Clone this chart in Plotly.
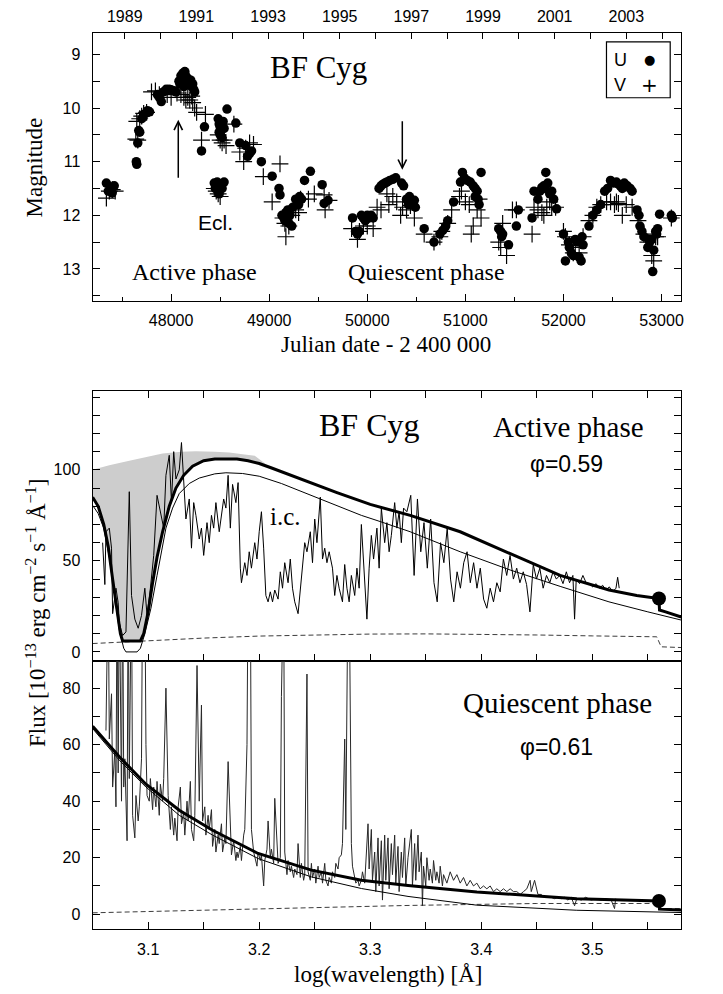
import plotly.graph_objects as go

SERIF = "Liberation Serif, Times New Roman, serif"
SANS = "Liberation Sans, Arial, sans-serif"

# ---------------- Light curve (JD-2400000, magnitude) ----------------
U_points = [
    (47340, 11.40), (47360, 11.55), (47380, 11.50), (47400, 11.58), (47420, 11.45),
    (47645, 11.00), (47650, 11.05), (47660, 10.65), (47670, 10.42), (47680, 10.45), (47700, 10.20),
    (47720, 10.12), (47740, 10.10), (47760, 10.05), (47780, 10.07),
    (47860, 9.75), (47880, 9.80), (47900, 9.88), (47920, 9.70),
    (47950, 9.65), (47980, 9.65), (48000, 9.66), (48030, 9.68), (48050, 9.70),
    (48080, 9.50), (48090, 9.55), (48100, 9.40), (48110, 9.45), (48120, 9.35), (48130, 9.60),
    (48140, 9.32), (48150, 9.40), (48160, 9.50), (48170, 9.45), (48180, 9.55), (48200, 9.48),
    (48210, 9.60), (48220, 9.55), (48230, 9.65), (48240, 9.70),
    (48340, 10.35), (48310, 10.80),
    (48440, 11.40), (48450, 11.50), (48460, 11.45), (48470, 11.38), (48480, 11.55), (48490, 11.60),
    (48500, 11.42), (48520, 11.50), (48540, 11.38),
    (48480, 10.20), (48490, 10.30), (48500, 10.35), (48510, 10.40), (48490, 10.45), (48500, 10.50),
    (48520, 10.55), (48530, 10.25), (48540, 10.38),
    (48570, 10.02), (48660, 10.28),
    (48700, 10.65), (48760, 10.70), (48780, 10.90), (48800, 10.85), (48820, 10.80),
    (48920, 11.00), (49030, 11.27), (49100, 11.50), (49110, 11.62),
    (49130, 12.00), (49150, 12.05), (49160, 12.10), (49170, 11.95), (49190, 11.90), (49200, 12.15),
    (49210, 12.00), (49230, 12.20), (49240, 11.85),
    (49270, 11.70), (49290, 11.75), (49300, 11.80), (49310, 11.65), (49330, 11.70),
    (49360, 11.35), (49420, 11.18), (49540, 11.43), (49560, 11.78), (49600, 11.72),
    (49850, 12.05), (49880, 12.30), (49900, 12.35), (49920, 12.30), (49940, 12.00), (49960, 12.05),
    (49980, 12.10), (50000, 12.00), (50020, 12.05), (50040, 12.00), (50060, 12.05),
    (50120, 11.50), (50140, 11.45), (50160, 11.42), (50180, 11.40), (50200, 11.38), (50230, 11.35),
    (50260, 11.33), (50290, 11.30), (50350, 11.40), (50370, 11.45),
    (50400, 11.70), (50420, 11.80), (50430, 11.65), (50460, 11.75), (50480, 11.72), (50490, 11.85),
    (50580, 12.25), (50680, 12.50), (50740, 12.35), (50770, 12.28), (50800, 12.20), (50820, 12.10),
    (50880, 11.75),
    (50950, 11.38), (50970, 11.20), (50990, 11.30), (51020, 11.35), (51050, 11.38), (51080, 11.45),
    (51100, 11.50), (51100, 11.65), (51120, 11.55), (51130, 11.70), (51140, 11.80), (51160, 11.20),
    (51340, 12.25), (51360, 12.30), (51370, 12.40), (51380, 12.35), (51440, 12.55),
    (51520, 12.20), (51540, 11.90), (51680, 12.05),
    (51700, 11.55), (51740, 11.70), (51760, 11.55), (51780, 11.48), (51800, 11.45), (51810, 11.50),
    (51820, 11.20), (51840, 11.40), (51860, 11.60), (51880, 11.55), (51900, 11.70), (51930, 11.88),
    (52000, 12.35), (52020, 12.85), (52050, 12.50), (52060, 12.60), (52080, 12.70), (52100, 12.75),
    (52120, 12.45), (52140, 12.50), (52160, 12.78), (52180, 12.85), (52200, 12.55), (52190, 12.40),
    (52260, 12.20), (52300, 12.00), (52340, 11.90), (52380, 11.80),
    (52420, 11.55), (52450, 11.50), (52480, 11.35), (52510, 11.40), (52540, 11.38), (52560, 11.42),
    (52580, 11.45), (52600, 11.50), (52620, 11.40), (52650, 11.45), (52680, 11.50), (52700, 11.55),
    (52750, 11.90), (52770, 12.00), (52780, 12.20), (52800, 12.30), (52820, 12.40),
    (52860, 12.60), (52870, 12.45), (52880, 12.50), (52900, 12.45), (52910, 13.05), (52920, 12.65),
    (52940, 12.30), (52950, 12.35), (52960, 12.25), (52980, 11.98), (53100, 12.00), (53110, 12.05),
]
V_points = [
    (47340, 11.68), (47370, 11.55), (47400, 11.52), (47430, 11.55),
    (47640, 10.58), (47650, 10.25), (47660, 10.60), (47680, 10.20), (47700, 10.15), (47720, 10.10),
    (47750, 10.08), (47800, 9.70), (47840, 9.68), (47880, 9.75),
    (47960, 9.75), (48000, 9.80), (48060, 9.72), (48100, 9.75), (48130, 9.80), (48150, 9.85),
    (48170, 9.80), (48190, 9.85), (48210, 9.78), (48220, 9.90), (48240, 10.00), (48260, 10.08),
    (48310, 10.60), (48350, 10.12),
    (48440, 11.50), (48460, 11.55), (48480, 11.60), (48500, 11.65),
    (48480, 10.50), (48500, 10.60), (48520, 10.65), (48540, 10.60), (48560, 10.70), (48640, 10.30),
    (48700, 10.82), (48740, 11.00), (48760, 10.75), (48800, 10.65), (48840, 10.68),
    (48940, 11.28), (49030, 11.75), (49110, 11.04),
    (49140, 12.05), (49160, 12.15), (49170, 12.40), (49200, 12.20), (49230, 12.00), (49250, 11.85),
    (49270, 11.90), (49300, 11.95), (49320, 11.70), (49400, 11.70), (49460, 11.60), (49560, 11.62),
    (49570, 11.90), (49610, 11.72),
    (49840, 12.25), (49900, 12.45), (49920, 12.30), (49960, 12.20), (50000, 12.20), (50060, 12.25),
    (50100, 11.85), (50140, 11.90), (50200, 11.60), (50220, 11.80), (50260, 11.65), (50300, 11.75),
    (50340, 12.00), (50360, 11.85), (50400, 11.90), (50440, 11.82), (50480, 12.05),
    (50580, 12.35), (50680, 12.50), (50740, 12.40), (50760, 12.30), (50820, 12.15), (50860, 11.90),
    (50940, 11.65), (50960, 11.55), (51000, 11.75), (51040, 11.80), (51060, 12.35), (51080, 12.20),
    (51120, 11.90), (51140, 11.70), (51160, 12.05),
    (51340, 12.50), (51360, 12.60), (51380, 12.15), (51420, 12.75), (51480, 11.90), (51520, 11.90),
    (51680, 12.35), (51700, 11.85), (51740, 11.90), (51780, 11.95), (51800, 12.00), (51830, 11.85),
    (51860, 11.75), (51880, 11.85), (51920, 11.85),
    (52000, 12.30), (52020, 12.40), (52060, 12.55), (52100, 12.70), (52120, 12.60), (52160, 12.70),
    (52200, 12.40), (52260, 12.10), (52300, 12.00), (52340, 11.85), (52380, 11.80), (52440, 11.75),
    (52480, 11.75), (52520, 11.80), (52540, 11.75), (52560, 11.78), (52600, 12.00), (52640, 11.80),
    (52700, 11.85), (52760, 12.10), (52820, 12.35), (52860, 12.50), (52900, 12.75), (52920, 12.85),
    (52940, 12.40), (52960, 12.40), (53100, 12.05),
]
year_jd = [47527.5, 47892.5, 48257.5, 48622.5, 48988.5, 49353.5, 49718.5, 50083.5, 50449.5,
           50814.5, 51179.5, 51544.5, 51910.5, 52275.5, 52640.5, 53005.5]
year_labels = ["1989", "", "1991", "", "1993", "", "1995", "", "1997", "", "1999", "", "2001", "",
               "2003", ""]

# ---------------- Active phase spectrum ----------------
act_obs = [
    (3.059, 60), (3.061, 37), (3.062, 66), (3.065, 68), (3.067, 57), (3.068, 21), (3.071, 35),
    (3.073, 27), (3.074, 16), (3.077, 9), (3.080, 11), (3.083, 88), (3.085, 31), (3.088, 18),
    (3.091, 13), (3.094, 20), (3.097, 35), (3.099, 20), (3.102, 35), (3.105, 53), (3.108, 86),
    (3.111, 77), (3.114, 68), (3.116, 97), (3.119, 108), (3.121, 82), (3.123, 110), (3.125, 95),
    (3.128, 100), (3.130, 115), (3.132, 93), (3.134, 73), (3.137, 84), (3.139, 57), (3.141, 82),
    (3.143, 75), (3.146, 62), (3.148, 68), (3.150, 53), (3.153, 71), (3.155, 60), (3.157, 75),
    (3.159, 68), (3.161, 82), (3.164, 66), (3.166, 75), (3.168, 84), (3.170, 79), (3.172, 97),
    (3.174, 68), (3.176, 92), (3.179, 82), (3.181, 93), (3.183, 46), (3.184, 38), (3.187, 49),
    (3.189, 42), (3.191, 55), (3.193, 46), (3.196, 60), (3.198, 51), (3.200, 66), (3.202, 77),
    (3.204, 57), (3.206, 31), (3.208, 27.5), (3.210, 33), (3.212, 27.5), (3.214, 34), (3.217, 29),
    (3.219, 44), (3.221, 35), (3.223, 49), (3.226, 38), (3.228, 51), (3.230, 35), (3.232, 27.5),
    (3.235, 21), (3.237, 35), (3.239, 46), (3.241, 60), (3.243, 55), (3.246, 66), (3.248, 49),
    (3.250, 73), (3.252, 60), (3.255, 85), (3.257, 51), (3.259, 57), (3.261, 49), (3.263, 55),
    (3.266, 46), (3.268, 31), (3.270, 42), (3.272, 35), (3.275, 27.5), (3.277, 48), (3.279, 35),
    (3.281, 27.5), (3.283, 42), (3.286, 31), (3.288, 46), (3.290, 35), (3.292, 70), (3.294, 49),
    (3.297, 18), (3.299, 46), (3.301, 64), (3.303, 51), (3.306, 68), (3.308, 46), (3.310, 79),
    (3.313, 60), (3.315, 71), (3.317, 55), (3.319, 64), (3.322, 82), (3.324, 68), (3.326, 77),
    (3.328, 60), (3.330, 79), (3.333, 77),
    (3.3365, 86), (3.3395, 42), (3.3425, 84), (3.3455, 55), (3.3484, 71), (3.3514, 46), (3.3544, 73),
    (3.3574, 38), (3.3603, 27.5), (3.3633, 60), (3.3663, 49), (3.3693, 68), (3.3723, 40),
    (3.3752, 27.5), (3.3782, 44), (3.3812, 35), (3.3842, 49), (3.3872, 55), (3.3901, 38),
    (3.3931, 49), (3.3961, 35), (3.3991, 46), (3.4021, 29), (3.4050, 24), (3.4080, 35),
    (3.4110, 27.5), (3.4140, 38), (3.4170, 33), (3.4199, 51), (3.4229, 42), (3.4259, 53),
    (3.4289, 40), (3.4319, 46), (3.4348, 38), (3.4378, 44), (3.4408, 37), (3.4438, 22),
    (3.4468, 48), (3.4497, 40), (3.4527, 46), (3.4557, 35), (3.4587, 42), (3.4617, 38),
    (3.4646, 44), (3.4676, 40), (3.4706, 42), (3.4736, 37.5), (3.4766, 44), (3.4795, 38),
    (3.4825, 42), (3.4840, 18), (3.4855, 40), (3.4885, 37.5), (3.4915, 42), (3.4944, 38),
    (3.4974, 37.5), (3.5004, 35.7), (3.5034, 37.5), (3.5064, 35), (3.5093, 36.6), (3.5123, 34),
    (3.5153, 35.7), (3.5183, 33), (3.5213, 35), (3.5228, 41), (3.5242, 35),
]
act_model_thick = [
    (3.050, 85), (3.055, 80), (3.060, 70), (3.064, 58), (3.068, 40), (3.072, 22), (3.075, 10),
    (3.077, 6), (3.093, 6), (3.096, 10), (3.100, 22), (3.104, 38), (3.108, 52), (3.113, 66),
    (3.119, 80), (3.125, 90), (3.132, 97), (3.140, 102), (3.150, 105), (3.160, 106), (3.170, 106),
    (3.180, 106), (3.190, 105), (3.200, 103.5), (3.210, 101.3), (3.220, 99), (3.247, 92.5),
    (3.270, 87.5), (3.300, 81), (3.336, 75), (3.381, 66), (3.426, 54), (3.471, 42), (3.515, 34),
    (3.540, 31), (3.560, 29.3), (3.5605, 23), (3.566, 22), (3.580, 19.2),
]
act_model_thin = [
    (3.050, 80.5), (3.055, 76), (3.060, 68), (3.065, 52), (3.070, 30), (3.074, 12), (3.078, 2),
    (3.080, 0), (3.090, 0), (3.093, 2), (3.097, 10), (3.1025, 24), (3.108, 42), (3.116, 68),
    (3.122, 79), (3.128, 87), (3.137, 92.5), (3.146, 95.5), (3.160, 97.8), (3.170, 98.4),
    (3.185, 98), (3.200, 96.5), (3.220, 92.5), (3.247, 86), (3.270, 80.5), (3.292, 75),
    (3.307, 72), (3.336, 66), (3.381, 55), (3.426, 45), (3.471, 36), (3.515, 27.5), (3.550, 22),
    (3.580, 17.5),
]
act_dashed = [
    (3.050, 4.6), (3.100, 6.3), (3.150, 7.6), (3.200, 8.7), (3.250, 9.4), (3.300, 9.8),
    (3.350, 9.9), (3.400, 9.7), (3.450, 9.3), (3.500, 8.8), (3.558, 8.3), (3.562, 2.8),
    (3.580, 2.4),
]
act_unabsorbed = [
    (3.050, 100), (3.065, 102.5), (3.083, 105), (3.100, 107.5), (3.113, 109), (3.130, 110),
    (3.143, 110.2), (3.160, 110), (3.173, 109.5), (3.185, 108.6), (3.196, 107.7), (3.210, 101.3),
]
act_photometry = [(3.560, 29.3)]

# ---------------- Quiescent phase spectrum ----------------
qui_obs = [
    (3.062, 65), (3.064, 120), (3.065, 62), (3.067, 78), (3.068, 45), (3.070, 58), (3.071, 38),
    (3.072, 120), (3.073, 50), (3.074, 120), (3.076, 40), (3.077, 120), (3.078, 45), (3.079, 55),
    (3.081, 26), (3.082, 120), (3.083, 48), (3.085, 120), (3.086, 35), (3.088, 27), (3.089, 42),
    (3.091, 33), (3.092, 38), (3.094, 55), (3.095, 120), (3.097, 120), (3.098, 60), (3.099, 42),
    (3.101, 40), (3.102, 48), (3.104, 37), (3.105, 45), (3.107, 38), (3.108, 47), (3.110, 35),
    (3.111, 46), (3.113, 40), (3.114, 48), (3.116, 80), (3.118, 42), (3.120, 30), (3.121, 38),
    (3.123, 28), (3.124, 34), (3.126, 26), (3.127, 38), (3.129, 45), (3.130, 32), (3.132, 36),
    (3.133, 28), (3.135, 40), (3.136, 33), (3.138, 47), (3.139, 30), (3.141, 26), (3.142, 35),
    (3.144, 88), (3.146, 40), (3.148, 74), (3.149, 33), (3.151, 38), (3.152, 28), (3.154, 35),
    (3.155, 30), (3.157, 37), (3.158, 24), (3.160, 30), (3.161, 22), (3.163, 28), (3.164, 25),
    (3.166, 32), (3.167, 22), (3.169, 27), (3.170, 25), (3.172, 54), (3.174, 30), (3.175, 21),
    (3.177, 26), (3.179, 19), (3.180, 22), (3.181, 20), (3.183, 24), (3.184, 19), (3.186, 28),
    (3.187, 30), (3.189, 60), (3.190, 120), (3.192, 120), (3.193, 30), (3.195, 22), (3.196, 20),
    (3.198, 17), (3.199, 22), (3.201, 19), (3.202, 21), (3.204, 10), (3.205, 19), (3.207, 23),
    (3.208, 33), (3.210, 20), (3.211, 23), (3.213, 18), (3.214, 41), (3.216, 22), (3.217, 18),
    (3.219, 20), (3.220, 77), (3.222, 120), (3.223, 22), (3.225, 14), (3.226, 19), (3.228, 15),
    (3.229, 17), (3.231, 13), (3.232, 16), (3.234, 14), (3.235, 25), (3.237, 13), (3.238, 18),
    (3.240, 12), (3.241, 14), (3.243, 85), (3.244, 15), (3.246, 12), (3.247, 18), (3.248, 13),
    (3.250, 16), (3.251, 11), (3.253, 17), (3.254, 13), (3.256, 15), (3.257, 11), (3.259, 18),
    (3.260, 12), (3.262, 10), (3.263, 13), (3.265, 11), (3.266, 15), (3.268, 13), (3.269, 18),
    (3.271, 16), (3.272, 20), (3.274, 21), (3.275, 25), (3.277, 62), (3.278, 30), (3.280, 120),
    (3.281, 120), (3.283, 25), (3.284, 17), (3.286, 13), (3.287, 11), (3.289, 12), (3.290, 10),
    (3.292, 12), (3.293, 15), (3.295, 11), (3.296, 20), (3.298, 32), (3.299, 16), (3.301, 30),
    (3.302, 12), (3.304, 22), (3.305, 8), (3.307, 27), (3.308, 10), (3.310, 26), (3.311, 5),
    (3.313, 28), (3.314, 12), (3.316, 27), (3.317, 9), (3.319, 25), (3.320, 14), (3.322, 28),
    (3.323, 11), (3.325, 24), (3.326, 8), (3.328, 22), (3.329, 13), (3.331, 27), (3.332, 10),
    (3.334, 20), (3.337, 30), (3.338, 10), (3.340, 25), (3.341, 12), (3.343, 28), (3.344, 15),
    (3.346, 22), (3.347, 3), (3.348, 17), (3.350, 10), (3.351, 20), (3.353, 12), (3.354, 16),
    (3.356, 11), (3.357, 19), (3.359, 12), (3.360, 15), (3.362, 11), (3.363, 17), (3.365, 10),
    (3.366, 14), (3.369, 11), (3.372, 15), (3.375, 12), (3.378, 14), (3.381, 11), (3.384, 13),
    (3.387, 10), (3.390, 12), (3.393, 10), (3.396, 11), (3.399, 9), (3.402, 10), (3.405, 9),
    (3.408, 10), (3.411, 8), (3.414, 9), (3.417, 8), (3.420, 9), (3.423, 8), (3.426, 9),
    (3.429, 8), (3.432, 8), (3.435, 7), (3.438, 8), (3.441, 9), (3.444, 12), (3.445, 8),
    (3.448, 12), (3.451, 7), (3.454, 7), (3.457, 6), (3.460, 6), (3.463, 6), (3.466, 5.5),
    (3.469, 6), (3.472, 5.5), (3.475, 6), (3.478, 5), (3.481, 6), (3.484, 3), (3.486, 5.5),
    (3.490, 5), (3.494, 6), (3.499, 5), (3.503, 5.5), (3.508, 5), (3.512, 5.5), (3.517, 5),
    (3.520, 2), (3.521, 5.5),
]
qui_model_thick = [
    (3.050, 66.5), (3.074, 55.7), (3.098, 46), (3.128, 36.8), (3.158, 29.7), (3.199, 21.5),
    (3.247, 15.6), (3.292, 12), (3.334, 10.2), (3.396, 7.9), (3.486, 5.5), (3.560, 4.7),
    (3.5605, 1.8), (3.580, 1.5),
]
qui_model_thin = [
    (3.050, 65.7), (3.074, 54.5), (3.098, 45), (3.128, 35), (3.158, 28), (3.199, 19.7),
    (3.247, 13.2), (3.292, 9.1), (3.334, 6.3), (3.396, 3.2), (3.486, 1.4), (3.580, 0.6),
]
qui_dashed = [
    (3.050, 0.5), (3.120, 1.2), (3.200, 1.9), (3.270, 2.6), (3.334, 3.1), (3.400, 3.5),
    (3.450, 3.8), (3.556, 3.8), (3.562, 2.0), (3.580, 2.0),
]
qui_photometry = [(3.560, 4.7)]


def xs(p):
    return [a for a, b in p]


def ys(p):
    return [b for a, b in p]


# page has an 8px body margin: map reference pixels onto figure paper coords
W, H, OFF = 715, 986, 8


def px(x):
    return (x - OFF) / W


def py(y):
    return 1 - (y - OFF) / H


fig = go.Figure()

# light curve
fig.add_trace(go.Scatter(x=xs(V_points), y=ys(V_points), mode="markers", xaxis="x", yaxis="y",
                         marker=dict(symbol="cross-thin", size=12, line=dict(width=1.2, color="black"))))
fig.add_trace(go.Scatter(x=xs(U_points), y=ys(U_points), mode="markers", xaxis="x", yaxis="y",
                         marker=dict(symbol="circle", size=9.5, color="black", line=dict(width=0))))
# invisible trace so that the calendar-year axis is drawn
fig.add_trace(go.Scatter(x=[year_jd[0]], y=[13.5], mode="markers", xaxis="x4", yaxis="y",
                         marker=dict(size=1, color="rgba(0,0,0,0)"), hoverinfo="skip"))

# active spectrum: gray region between unabsorbed envelope and model
lower = [p for p in act_model_thick if p[0] <= 3.2101]
poly_x = xs(act_unabsorbed) + xs(lower)[::-1]
poly_y = ys(act_unabsorbed) + ys(lower)[::-1]
fig.add_trace(go.Scatter(x=poly_x, y=poly_y, mode="lines", fill="toself", fillcolor="rgb(205,205,205)",
                         line=dict(width=0, color="rgba(0,0,0,0)"), xaxis="x2", yaxis="y2"))
fig.add_trace(go.Scatter(x=xs(act_dashed), y=ys(act_dashed), mode="lines", xaxis="x2", yaxis="y2",
                         line=dict(color="rgb(60,60,60)", width=1, dash="5px,3px")))
fig.add_trace(go.Scatter(x=xs(act_model_thin), y=ys(act_model_thin), mode="lines", xaxis="x2", yaxis="y2",
                         line=dict(color="black", width=1)))
fig.add_trace(go.Scatter(x=xs(act_obs), y=ys(act_obs), mode="lines", xaxis="x2", yaxis="y2",
                         line=dict(color="black", width=1)))
fig.add_trace(go.Scatter(x=xs(act_model_thick), y=ys(act_model_thick), mode="lines", xaxis="x2", yaxis="y2",
                         line=dict(color="black", width=3)))
fig.add_trace(go.Scatter(x=xs(act_photometry), y=ys(act_photometry), mode="markers", xaxis="x2", yaxis="y2",
                         marker=dict(size=14, color="black")))

# quiescent spectrum
fig.add_trace(go.Scatter(x=xs(qui_dashed), y=ys(qui_dashed), mode="lines", xaxis="x3", yaxis="y3",
                         line=dict(color="rgb(60,60,60)", width=1, dash="5px,3px")))
fig.add_trace(go.Scatter(x=xs(qui_obs), y=ys(qui_obs), mode="lines", xaxis="x3", yaxis="y3",
                         line=dict(color="rgb(40,40,40)", width=1)))
fig.add_trace(go.Scatter(x=xs(qui_model_thin), y=ys(qui_model_thin), mode="lines", xaxis="x3", yaxis="y3",
                         line=dict(color="black", width=1)))
fig.add_trace(go.Scatter(x=xs(qui_model_thick), y=ys(qui_model_thick), mode="lines", xaxis="x3", yaxis="y3",
                         line=dict(color="black", width=3)))
fig.add_trace(go.Scatter(x=xs(qui_photometry), y=ys(qui_photometry), mode="markers", xaxis="x3", yaxis="y3",
                         marker=dict(size=14, color="black")))

XD = [px(93), px(684)]
tickfont = dict(family=SANS, size=16, color="black")
common = dict(showgrid=False, zeroline=False, showline=True, linecolor="black", linewidth=1.3,
              ticks="inside", tickcolor="black", tickwidth=1.1, tickfont=tickfont,
              exponentformat="none", separatethousands=False)

fig.update_layout(
    width=W, height=H, margin=dict(l=0, r=0, t=0, b=0),
    paper_bgcolor="white", plot_bgcolor="white", showlegend=False,
    xaxis=dict(domain=XD, anchor="y", range=[47200, 53200], tick0=48000, dtick=1000, ticklen=7,
               tickformat="d",
               minor=dict(dtick=500, tick0=48000, ticks="inside", ticklen=4, tickcolor="black"),
               mirror=True, ticklabelstandoff=5, **common),
    xaxis4=dict(overlaying="x", side="top", anchor="y", range=[47200, 53200], tickmode="array",
                tickvals=year_jd, ticktext=year_labels, ticklen=6, ticklabelstandoff=3, **common),
    yaxis=dict(domain=[py(299), py(30)], anchor="x", range=[13.6, 8.6], tick0=9, dtick=1,
               ticklen=7, minor=dict(dtick=0.5, tick0=9, ticks="inside", ticklen=7, tickcolor="black"),
               mirror="ticks", ticklabelstandoff=8, **common),
    xaxis2=dict(domain=XD, anchor="y2", matches="x3", range=[3.05, 3.58], tick0=3.1, dtick=0.05,
                ticklen=7, showticklabels=False, mirror="ticks", **common),
    yaxis2=dict(domain=[py(660), py(389)], anchor="x2", range=[-5, 143.4], tick0=0, dtick=50,
                ticklen=7, minor=dict(dtick=10, tick0=0, ticks="inside", ticklen=7, tickcolor="black"),
                mirror="ticks", ticklabelstandoff=8, **common),
    xaxis3=dict(domain=XD, anchor="y3", range=[3.05, 3.58], tick0=3.1, dtick=0.1, ticklen=7,
                minor=dict(dtick=0.05, tick0=3.1, ticks="inside", ticklen=7, tickcolor="black"),
                mirror=True, ticklabelstandoff=5, **common),
    yaxis3=dict(domain=[py(929), py(660)], anchor="x3", range=[-5.3, 89.6], tick0=0, dtick=20,
                ticklen=7, minor=dict(dtick=10, tick0=0, ticks="inside", ticklen=7, tickcolor="black"),
                mirror="ticks", ticklabelstandoff=8, **common),
)


def txt(text, x, y, xref, yref, font, size, **kw):
    return dict(text=text, x=x, y=y, xref=xref, yref=yref, showarrow=False,
                xanchor="center", yanchor="middle",
                font=dict(family=font, size=size, color="black"), **kw)


ann = [
    txt("BF Cyg", 49504, 9.25, "x", "y", SERIF, 31),
    txt("Active phase", 48235, 13.06, "x", "y", SERIF, 24),
    txt("Quiescent phase", 50600, 13.06, "x", "y", SERIF, 24),
    txt("Ecl.", 48449, 12.13, "x", "y", SANS, 21),
    txt("U", px(623), py(57), "paper", "paper", SANS, 18),
    txt("V", px(623), py(82), "paper", "paper", SANS, 18),
    txt("●", px(652), py(57), "paper", "paper", "DejaVu Sans", 13),
    txt("+", px(652), py(82), "paper", "paper", "DejaVu Sans", 20),
    txt("Magnitude", px(35), py(165), "paper", "paper", SERIF, 23, textangle=-90),
    txt("Julian date - 2 400 000", px(388), py(343), "paper", "paper", SERIF, 23),
    txt("BF Cyg", 3.2987, 124.7, "x2", "y2", SERIF, 32),
    txt("Active phase", 3.4784, 123.6, "x2", "y2", SERIF, 29),
    txt("φ=0.59", 3.4767, 103.3, "x2", "y2", SANS, 23),
    txt("i.c.", 3.2235, 74.2, "x2", "y2", SERIF, 25),
    txt("Quiescent phase", 3.4686, 74.7, "x3", "y3", SERIF, 29),
    txt("φ=0.61", 3.4677, 59.1, "x3", "y3", SANS, 23),
    txt("Flux [10<sup>−13</sup> erg cm<sup>−2</sup> s<sup>−1</sup> Å<sup>−1</sup>]", px(36), py(612),
        "paper", "paper", SERIF, 23, textangle=-90),
    txt("log(wavelength) [Å]", px(390), py(974), "paper", "paper", SERIF, 23),
    dict(x=48073, y=10.22, ax=48073, ay=11.33, xref="x", yref="y", axref="x", ayref="y", text="",
         showarrow=True, arrowhead=5, arrowsize=1.1, arrowwidth=1.5, arrowcolor="black"),
    dict(x=50357, y=11.15, ax=50357, ay=10.22, xref="x", yref="y", axref="x", ayref="y", text="",
         showarrow=True, arrowhead=5, arrowsize=1.1, arrowwidth=1.5, arrowcolor="black"),
]
fig.update_layout(annotations=ann)
fig.add_shape(type="rect", xref="paper", yref="paper", x0=px(609), x1=px(673), y0=py(95),
              y1=py(39), line=dict(color="black", width=1.2), fillcolor="white", layer="below")

fig.write_html("out.html")
